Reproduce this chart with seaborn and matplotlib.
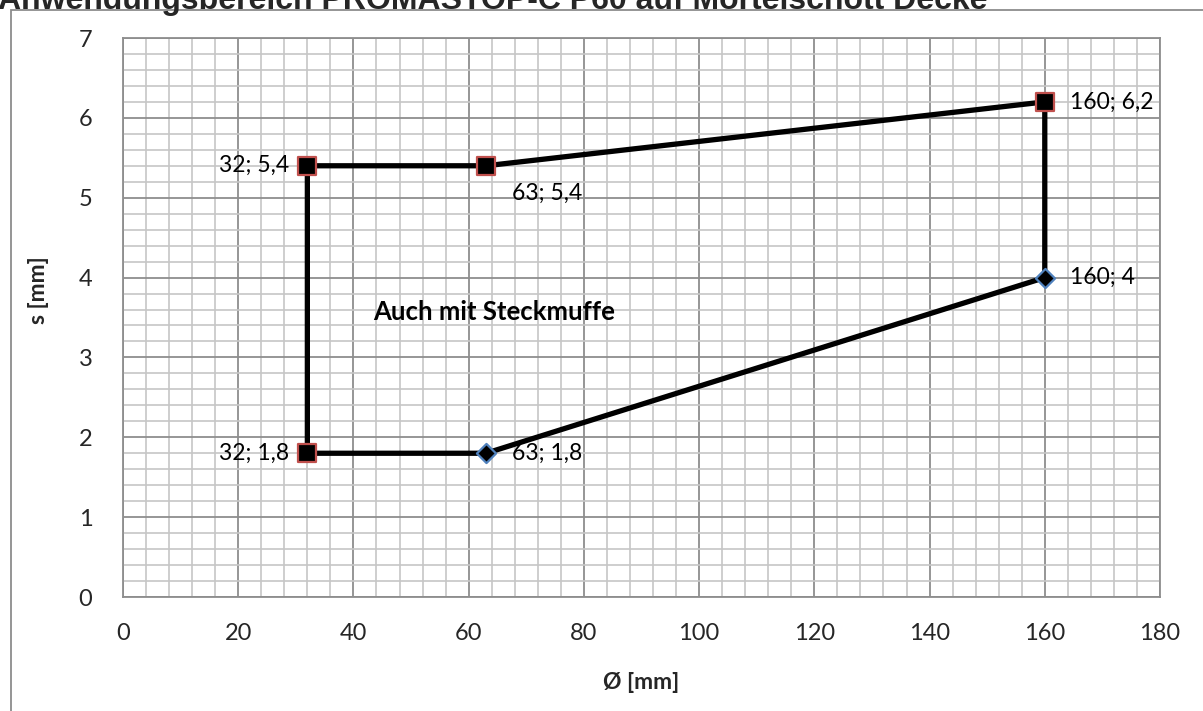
import numpy as np
import pandas as pd
import matplotlib
matplotlib.use("Agg")
import matplotlib.pyplot as plt
import seaborn as sns
from matplotlib.ticker import MultipleLocator
from matplotlib.patches import Rectangle

# Daten (Umriss des Anwendungsbereichs)
durchmesser = [32, 32, 63, 160, 160, 63, 32]
wandstaerke = [1.8, 5.4, 5.4, 6.2, 4.0, 1.8, 1.8]

# Punkte mit Markern
punkt_x = [32, 32, 63, 160, 160, 63]
punkt_y = [1.8, 5.4, 5.4, 6.2, 4.0, 1.8]
punkt_typ = ["oben", "oben", "oben", "oben", "unten", "unten"]
punkt_text = ["32; 1,8", "32; 5,4", "63; 5,4", "160; 6,2", "160; 4", "63; 1,8"]
# Versatz der Beschriftung in Pixeln (dx, dy, ha)
text_versatz = [(-18, 0, "right"), (-18, 0, "right"), (26, -28, "left"),
                (25, 0, "left"), (25, 0, "left"), (26, 0, "left")]

TITEL = "Anwendungsbereich PROMASTOP-C P60 auf Mörtelschott Decke"
X_LABEL = "Ø [mm]"
Y_LABEL = "s [mm]"
HINWEIS = "Auch mit Steckmuffe"

sns.set_style("white")
plt.rcParams["font.family"] = ["Lato", "DejaVu Sans"]

fig = plt.figure(figsize=(12.03, 7.11), dpi=100)
ax = fig.add_axes([123 / 1203, 1 - 597 / 711, (1160 - 123) / 1203, (597 - 38) / 711])

# Rahmen des Diagrammbereichs
fig.patches.append(Rectangle((11 / 1203, -0.1), 1.2, 1 - 10 / 711 + 0.1,
                             transform=fig.transFigure, fill=False,
                             edgecolor="#8c8c8c", linewidth=1.3))

umriss = pd.DataFrame({"d": durchmesser, "s": wandstaerke})
sns.lineplot(data=umriss, x="d", y="s", sort=False, estimator=None,
             color="black", linewidth=3.8, ax=ax, zorder=3)

punkte = pd.DataFrame({"d": punkt_x, "s": punkt_y, "typ": punkt_typ})
oben = punkte[punkte["typ"] == "oben"]
unten = punkte[punkte["typ"] == "unten"]
sns.scatterplot(data=oben, x="d", y="s", marker="s", s=175, color="black",
                edgecolor="#c0504d", linewidth=1.6, ax=ax, zorder=4)
sns.scatterplot(data=unten, x="d", y="s", marker="D", s=95, color="black",
                edgecolor="#4f81bd", linewidth=1.6, ax=ax, zorder=4)

for x, y, t, (dx, dy, ha) in zip(punkt_x, punkt_y, punkt_text, text_versatz):
    ax.annotate(t, (x, y), xytext=(dx, dy), textcoords="offset pixels",
                ha=ha, va="center", fontsize=16.5, color="black")

ax.text(43.4, 3.57, HINWEIS, fontsize=18.5, fontweight="bold",
        ha="left", va="center", color="black")

ax.set_xlim(0, 180)
ax.set_ylim(0, 7)
ax.xaxis.set_major_locator(MultipleLocator(20))
ax.xaxis.set_minor_locator(MultipleLocator(4))
ax.yaxis.set_major_locator(MultipleLocator(1))
ax.yaxis.set_minor_locator(MultipleLocator(0.2))
ax.grid(which="minor", color="#c6c6c6", linewidth=1.2)
ax.grid(which="major", color="#8e8e8e", linewidth=1.3)
ax.set_axisbelow(True)
for sp in ax.spines.values():
    sp.set_color("#8e8e8e")
    sp.set_linewidth(1.3)

ax.tick_params(which="both", length=0)
ax.tick_params(axis="x", pad=19, labelsize=17)
ax.tick_params(axis="y", pad=22, labelsize=17)

ax.set_xlabel(X_LABEL, fontsize=16.5, fontweight="bold")
ax.set_ylabel(Y_LABEL, fontsize=16.5, fontweight="bold")
ax.xaxis.set_label_coords(0.5, -75 / 559)
ax.yaxis.set_label_coords(-74 / 1037, (597 - 290) / 559)

fig.text(-0.002, 1 - 9 / 711, TITEL, fontsize=23, fontweight="bold",
         family=["Liberation Sans", "DejaVu Sans"], ha="left", va="baseline")

fig.savefig("out.png", dpi=100)
